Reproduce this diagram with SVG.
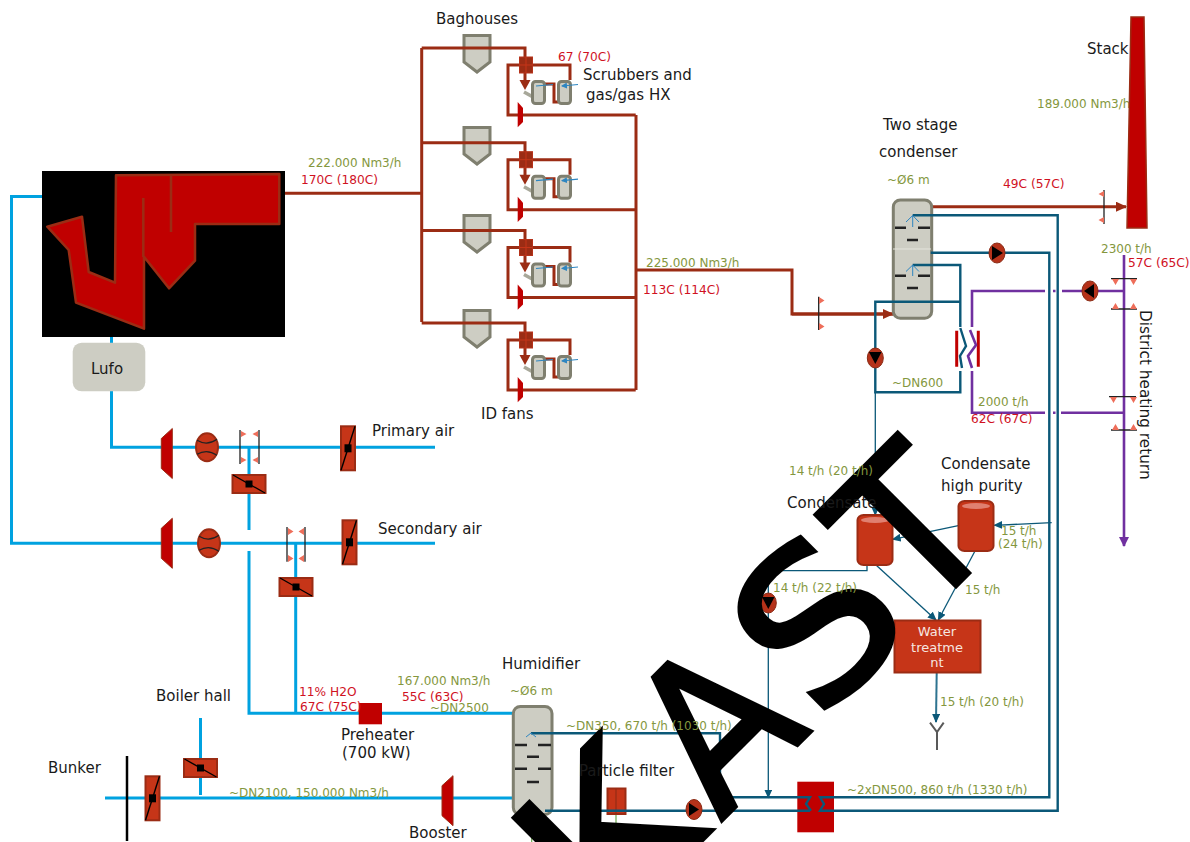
<svg xmlns="http://www.w3.org/2000/svg" xmlns:xlink="http://www.w3.org/1999/xlink" width="1190" height="842" viewBox="0 0 1190 842">
<style>
text{font-family:"DejaVu Sans",Verdana,sans-serif;font-size:15px;fill:#1a1a1a}
.g{font-size:12px;fill:#84973e}
.r{font-size:12.2px;fill:#d0121f}
.w{font-size:13px;fill:#f6e6e0;text-anchor:middle}
.flue{fill:none;stroke:#9b2c14;stroke-width:3}
.air{fill:none;stroke:#00a2e0;stroke-width:3}
.wat{fill:none;stroke:#0b5878;stroke-width:2.4}
.thin{fill:none;stroke:#0b5878;stroke-width:1.3}
.pur{fill:none;stroke:#7030a0;stroke-width:2.6}
.vessel{fill:#cdcdc3;stroke:#7f7f6f;stroke-width:3}
.red{fill:#c00000;stroke:#9b2c14;stroke-width:1}
.eq{fill:#c63518;stroke:#9b2c14;stroke-width:2}
.blk{fill:none;stroke:#222;stroke-width:1.3}
.tri{fill:#ee6e5a}
.dash{stroke:#222;stroke-width:2.4}
.wm{font-size:205px;fill:#000;stroke:#000;stroke-width:4.500px}
.wk{font-family:"Liberation Sans",Arial,sans-serif;font-size:216px;fill:#000;stroke:#000;stroke-width:5px}
</style>
<defs>
<marker id="af" markerWidth="12" markerHeight="10" refX="10" refY="5" orient="auto" markerUnits="userSpaceOnUse"><path d="M0 0L11 5L0 10Z" fill="#9b2c14"/></marker>
<marker id="aw" markerWidth="10" markerHeight="8" refX="8" refY="4" orient="auto" markerUnits="userSpaceOnUse"><path d="M0 0L9 4L0 8Z" fill="#0b5878"/></marker>
<marker id="ap" markerWidth="12" markerHeight="10" refX="9" refY="5" orient="auto" markerUnits="userSpaceOnUse"><path d="M0 0L10 5L0 10Z" fill="#7030a0"/></marker>
<marker id="ab" markerWidth="8" markerHeight="6" refX="5" refY="3" orient="auto" markerUnits="userSpaceOnUse"><path d="M0 0L6 3L0 6Z" fill="#2e86c1"/></marker>
<g id="damperV"><rect x="-7" y="-22" width="14" height="44" class="eq"/><path d="M-7 22L7-22" stroke="#000" stroke-width="1.4"/><rect x="-3.500" y="-4" width="7" height="8"/></g>
<g id="damperH"><rect x="-16.500" y="-9" width="33" height="18" class="eq"/><path d="M-16-9L16 9" stroke="#000" stroke-width="1.4"/><rect x="-3.500" y="-3.500" width="7" height="7"/></g>
<g id="fan"><path d="M-5.500 -15L5.500-25V25L-5.500 15Z" class="red"/></g>
<g id="ball"><ellipse rx="11" ry="14" class="eq" stroke-width="1"/><path d="M-10-7Q0-1 10-8M-10 7Q0 1 10 8" fill="none" stroke="#222" stroke-width="1.2"/></g>
<g id="pump"><ellipse rx="8" ry="10" fill="#b5321a" stroke="#8a2a14"/></g>
<g id="tank"><rect x="0" y="0" width="35" height="50" rx="6" ry="5" class="eq"/><ellipse cx="17.500" cy="5" rx="14" ry="3" fill="#e08070"/></g>
<g id="bag"><path d="M464 35.500H490V62L477 72L464 62Z" class="vessel"/></g>
<g id="train">
<path class="flue" d="M421.700 48H525V85M519 65H508V115H635.700M525 65H570V80M545 84H554V102H558"/>
<path d="M519.500 80L530.500 80L525 90Z" fill="#9b2c14"/>
<rect x="519.500" y="57" width="13" height="16" fill="#9b2c14" stroke="#b5321a"/><path d="M526 57V73M519.500 65H532.500" stroke="#c63518"/>
<path d="M524 92L533 97" stroke="#a8a89a" stroke-width="3.500"/>
<rect x="532.500" y="81.500" width="12" height="22" rx="3" class="vessel"/>
<rect x="558.500" y="81.500" width="12" height="22" rx="3" class="vessel"/>
<path d="M553 84.500L536 86M578 84.500L562 86" stroke="#2e86c1" stroke-width="1.2" fill="none" marker-end="url(#ab)"/>
<path d="M517.700 102L523 108V122L517.700 127.300Z" fill="#c00000"/>
</g>
</defs>
<g id="connectors">
<path class="flue" d="M285 193.300H421.700M421.700 48V322M636 115V390M636 270H792V314H893" />
<path class="flue" d="M792 314H893" marker-end="url(#af)"/>
<path class="flue" d="M932 206.700H1126" marker-end="url(#af)"/>
<path class="air" d="M42 196.500H11.500V543.300H435M111.500 337V343M111.500 391V447.300H435M249 447V530M249 551V713.300H513M295.700 543V713M105 798H520M200.500 718V795"/>
<path class="pur" d="M972 328V291H1045M1053 291H1055.500M1062 291H1124M972 371V412.700H1045M1053 412.700H1055.500M1061 412.700H1124"/>
<path class="pur" d="M1124 255V546" marker-end="url(#ap)"/>
<path class="thin" d="M875.300 392V515" marker-end="url(#aw)"/>
<path class="thin" d="M958.300 525.700L892.700 539.300" marker-end="url(#aw)"/>
<path class="thin" d="M1051.700 522.700L994.300 525.300" marker-end="url(#aw)"/>
<path class="thin" d="M876 565L936 620" marker-end="url(#aw)"/>
<path class="thin" d="M975 551L938.300 620" marker-end="url(#aw)"/>
<path class="thin" d="M867 563V570.700H768.300V797.500" marker-end="url(#aw)"/>
<path d="M936.700 672.300L936 722" fill="none" stroke="#2d7390" stroke-width="2" marker-end="url(#aw)"/>
<path d="M531.700 828V842M616 814V842" stroke="#6aa84f" stroke-width="1.200" fill="none"/>
</g>
<text class="g" x="1037" y="108">189.000 Nm3/h</text>
<g id="stack"><path d="M1131 17H1144L1147 228H1127Z" fill="#c00000" stroke="#9b2c14" stroke-width="1.500"/></g>
<g id="furnace">
<rect x="42" y="171" width="243" height="166"/>
<path d="M47.300 226.700L82 216.700L88.700 272L115 282.700L116 175.300L279.300 174V224H195V260.700L169 288.300L144 256.700V328.700L76 302.700L68.700 250Z" fill="#c00000" stroke="#9b2c14" stroke-width="2.500" stroke-linejoin="round"/>
<path d="M143.300 198V257M171 174V232" stroke="#9b2c14" stroke-width="2.500"/>
</g>
<g id="lufo"><rect x="72.700" y="342.700" width="72.600" height="48.600" rx="9" fill="#cdcdc3"/><text x="91" y="374">Lufo</text></g>
<g id="baghouses"><use xlink:href="#bag"/><use xlink:href="#bag" transform="translate(0 92)"/><use xlink:href="#bag" transform="translate(0 180)"/><use xlink:href="#bag" transform="translate(0 275)"/></g>
<g id="train1"><use xlink:href="#train"/></g>
<g id="train2"><use xlink:href="#train" transform="translate(0 94.700)"/></g>
<g id="train3"><use xlink:href="#train" transform="translate(0 182.500)"/></g>
<g id="train4"><use xlink:href="#train" transform="translate(0 275)"/></g>
<g id="airfit">
<use xlink:href="#fan" transform="translate(166.800 453.500)"/>
<use xlink:href="#fan" transform="translate(166.800 543.300)"/>
<use xlink:href="#fan" transform="translate(447.500 800.700)"/>
<use xlink:href="#ball" transform="translate(207 447.300)"/>
<use xlink:href="#ball" transform="translate(209 543.300)"/>
<use xlink:href="#damperV" transform="translate(348 448.300)"/>
<use xlink:href="#damperV" transform="translate(349.500 542.300)"/>
<use xlink:href="#damperV" transform="translate(152.500 798.300)"/>
<use xlink:href="#damperH" transform="translate(249 484)"/>
<use xlink:href="#damperH" transform="translate(296 587)"/>
<use xlink:href="#damperH" transform="translate(200.500 768)"/>
<path class="blk" d="M240 430V464M259 430V464M287 527V561.700M305 527V561.700M818.700 296.700V330M1104 190V224M1111 278.700H1137M1111 309H1137M1109 396.700H1136M1111 430H1137"/>
<path class="tri" d="M241 431L246.500 434L241 437ZM241 457L246.500 460L241 463ZM258 431L252.500 434L258 437ZM258 457L252.500 460L258 463ZM288 528L293.500 531.500L288 535ZM288 555L293.500 558.500L288 562ZM304 528L298.500 531.500L304 535ZM304 555L298.500 558.500L304 562ZM819 297L824.500 300.500L819 304ZM819 323L824.500 326.500L819 330ZM1104 191L1098.500 194L1104 197ZM1104 217L1098.500 220L1104 223ZM1112 279H1119L1115.500 285ZM1130 279H1137L1133.500 285ZM1112 309H1119L1115.500 303ZM1130 309H1137L1133.500 303ZM1110 397H1117L1113.500 403ZM1130 397H1137L1133.500 403ZM1112 430H1119L1115.500 424ZM1130 430H1137L1133.500 424Z"/>
<rect x="358.700" y="703" width="23.300" height="21.300" fill="#c00000"/>
<path d="M127 756V841" stroke="#000" stroke-width="2.500"/>
</g>
<g id="condenser">
<rect x="893.300" y="200" width="38.400" height="118.300" rx="7" class="vessel"/>
<path class="dash" d="M895 227.700H906M918 227.700H930M907 240H918M895 275.700H906M918 275.700H930M907 288H918"/>
<path d="M893 249H931" stroke="#e4e4dc" stroke-width="1"/>
</g>
<g id="tanks">
<use xlink:href="#tank" transform="translate(857.500 515)"/>
<use xlink:href="#tank" transform="translate(958.500 501)"/>
</g>
<g id="treatment"><rect x="894.500" y="620.500" width="86" height="52" class="eq"/>
<text class="w" x="937" y="636">Water</text><text class="w" x="937" y="652">treatme</text><text class="w" x="937" y="667">nt</text></g>
<g id="drain"><path d="M930 722.700L937 732L943.700 722.700M937 732V750" fill="none" stroke="#595959" stroke-width="2"/></g>
<g id="humidifier">
<rect x="513.300" y="706.500" width="38.700" height="108" rx="7" class="vessel"/>
<path class="dash" d="M515 745H527M538 745H551M527 756.700H539M515 768.700H527M538 768.700H551M527 782H539"/>
</g>
<g id="filter"><rect x="607.500" y="788.500" width="18" height="25.500" class="eq"/><path d="M616 789V814" stroke="#8a2a14"/></g>
<g id="hx2">
<rect x="797.300" y="781.700" width="36.700" height="50.600" fill="#c00000"/>
</g>
<g id="water-lines">
<path class="wat" d="M912.700 215.300H1057.700V810.700H820L824 804L820 797.300H835M811 810.700L806 804L810 797.300H720M810 810.700H545M930.700 252.700H1049.300V797.300H835M720 797.300V733.300H531M912.700 265H960.300V392.300H875.300V301.700H960.300"/>
<path d="M906 222L912.700 215.500L919 222M906 271.500L912.700 265L919 271.500M912.700 215.500V227M912.700 265V276M526 737L531 733L536 737" fill="none" stroke="#2e86c1" stroke-width="1"/>
</g>
<g id="hx1">
<rect x="951" y="327" width="33" height="44" fill="#fff"/>
<path d="M956.700 330.700V366.700M978.300 330.700V366.700" stroke="#c00000" stroke-width="3"/>
<path class="wat" d="M960.300 328L966 346L960 356L962 368"/>
<path class="pur" d="M970 330L976 345L968 356L972 368"/>
</g>
<g id="pumps">
<use xlink:href="#pump" transform="translate(997 253)"/><path d="M992 246L1003 253L992 260Z"/>
<use xlink:href="#pump" transform="translate(1090 291)"/><path d="M1094 284L1084 291L1094 298Z"/>
<use xlink:href="#pump" transform="translate(875.300 358)"/><path d="M869 352H881.500L875.300 364Z"/>
<use xlink:href="#pump" transform="translate(768.300 603)"/><path d="M762 597H774.500L768.300 609Z"/>
<use xlink:href="#pump" transform="translate(694 809.500)"/><path d="M689 803L699 809.500L689 816Z"/>
</g>
<g id="watermark" transform="translate(627 915) rotate(-45)">
<text class="wk" transform="translate(-29.500 0) scale(1.050 1)">K</text>
<text class="wm" transform="translate(132.500 0) scale(0.920 1)">A</text>
<text class="wm" transform="translate(271 0) scale(1.080 1)">S</text>
<text class="wm" transform="translate(417 0) scale(0.920 1)">T</text>
</g>
<g id="labels">
<text x="436" y="24">Baghouses</text>
<text class="r" x="558" y="61">67 (70C)</text>
<text x="583" y="80">Scrubbers and</text>
<text x="586" y="100">gas/gas HX</text>
<text x="1087" y="54">Stack</text>
<text x="883" y="130">Two stage</text>
<text x="879" y="157">condenser</text>
<text class="g" x="887" y="184">~Ø6 m</text>
<text class="r" x="1003" y="188">49C (57C)</text>
<text class="g" x="1101" y="253">2300 t/h</text>
<text class="r" x="1128" y="267">57C (65C)</text>
<text transform="translate(1140 310) rotate(90)" style="font-size:15.300px">District heating return</text>
<text class="g" x="646" y="267">225.000 Nm3/h</text>
<text class="r" x="643" y="294">113C (114C)</text>
<text class="g" x="308" y="167">222.000 Nm3/h</text>
<text class="r" x="301" y="184">170C (180C)</text>
<text x="481" y="419">ID fans</text>
<text x="372" y="436">Primary air</text>
<text x="378" y="534">Secondary air</text>
<text class="g" x="892" y="387">~DN600</text>
<text class="g" x="978" y="406">2000 t/h</text>
<text class="r" x="971" y="423">62C (67C)</text>
<text class="g" x="789" y="475">14 t/h (20 t/h)</text>
<text x="787" y="508">Condensate</text>
<text x="941" y="469">Condensate</text>
<text x="941" y="491">high purity</text>
<text class="g" x="1001" y="535">15 t/h</text>
<text class="g" x="998" y="548">(24 t/h)</text>
<text class="g" x="773" y="592">14 t/h (22 t/h)</text>
<text class="g" x="965" y="594">15 t/h</text>
<text class="g" x="940" y="706">15 t/h (20 t/h)</text>
<text class="g" x="847" y="794">~2xDN500, 860 t/h (1330 t/h)</text>
<text x="579" y="776">Particle filter</text>
<text class="g" x="566" y="730">~DN350, 670 t/h (1030 t/h)</text>
<text x="502" y="669">Humidifier</text>
<text class="g" x="510" y="695">~Ø6 m</text>
<text class="g" x="397" y="685">167.000 Nm3/h</text>
<text class="r" x="402" y="701">55C (63C)</text>
<text class="g" x="430" y="712">~DN2500</text>
<text class="r" x="299" y="696">11% H2O</text>
<text class="r" x="300" y="711">67C (75C)</text>
<text x="341" y="740">Preheater</text>
<text x="342" y="758">(700 kW)</text>
<text x="156" y="701">Boiler hall</text>
<text x="48" y="773">Bunker</text>
<text class="g" x="229" y="797">~DN2100, 150.000 Nm3/h</text>
<text x="409" y="838">Booster</text>
</g>
</svg>
